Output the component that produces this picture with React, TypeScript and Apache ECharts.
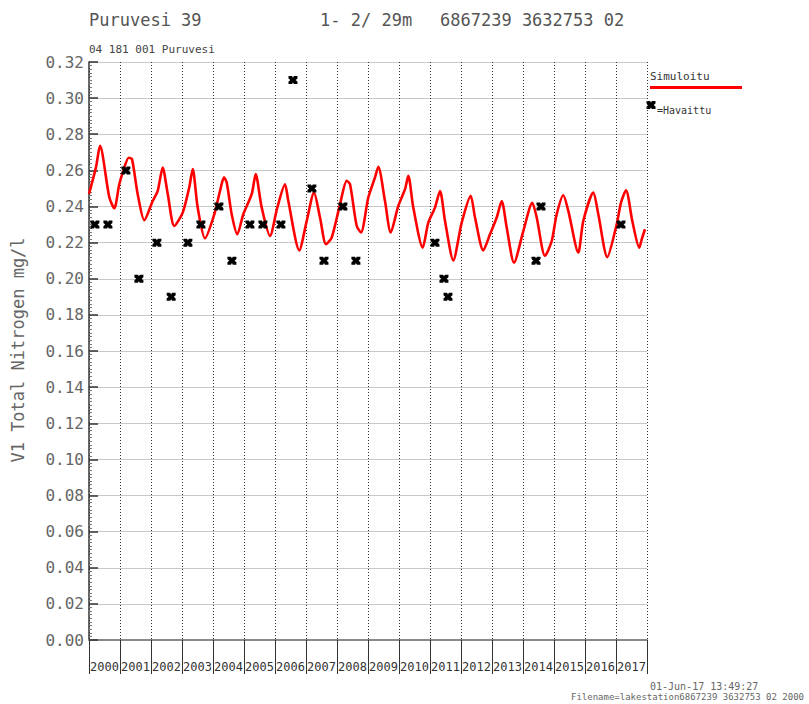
import React, { useEffect, useRef } from "react";
import * as echarts from "echarts";

const simYears = [
  2000.0, 2000.226, 2000.355, 2000.655, 2000.816, 2000.977, 2001.106, 2001.281, 2001.387, 2001.571,
  2001.784, 2002.055, 2002.216, 2002.377, 2002.539, 2002.752, 2003.023, 2003.235, 2003.345, 2003.506,
  2003.742, 2004.042, 2004.226, 2004.355, 2004.442, 2004.603, 2004.784, 2004.977, 2005.248, 2005.377,
  2005.571, 2005.839, 2006.074, 2006.323, 2006.429, 2006.784, 2007.023, 2007.258, 2007.452, 2007.645,
  2007.829, 2008.097, 2008.313, 2008.42, 2008.635, 2008.774, 2009.01, 2009.226, 2009.332, 2009.548,
  2009.732, 2009.977, 2010.194, 2010.3, 2010.461, 2010.765, 2010.945, 2011.161, 2011.323, 2011.484,
  2011.752, 2012.023, 2012.313, 2012.452, 2012.719, 2012.935, 2013.152, 2013.313, 2013.474, 2013.71,
  2014.01, 2014.3, 2014.442, 2014.71, 2014.926, 2015.087, 2015.3, 2015.461, 2015.784, 2015.945,
  2016.268, 2016.429, 2016.719, 2017.023, 2017.161, 2017.323, 2017.526, 2017.752, 2017.829, 2017.935,
];
const simValues = [
  0.247, 0.2618, 0.2736, 0.2451, 0.239, 0.2523, 0.2597, 0.267, 0.2662, 0.2468,
  0.2324, 0.243, 0.2486, 0.2615, 0.247, 0.2292, 0.2366, 0.2507, 0.2607, 0.2394,
  0.2224, 0.2357, 0.2486, 0.2561, 0.2533, 0.2357, 0.2246, 0.2357, 0.2468, 0.2579,
  0.2394, 0.2237, 0.2394, 0.2523, 0.243, 0.2157, 0.232, 0.2477, 0.2339, 0.2191,
  0.2228, 0.2412, 0.2542, 0.2523, 0.2293, 0.2256, 0.245, 0.2561, 0.262, 0.243,
  0.2256, 0.2403, 0.2496, 0.257, 0.2394, 0.2172, 0.2311, 0.2394, 0.2486, 0.232,
  0.2102, 0.2311, 0.2459, 0.2339, 0.2157, 0.2246, 0.2339, 0.243, 0.2284, 0.2089,
  0.2264, 0.2421, 0.2339, 0.2126, 0.2209, 0.2357, 0.2462, 0.2376, 0.2145, 0.232,
  0.2477, 0.2357, 0.212, 0.2302, 0.2421, 0.249, 0.232, 0.2172, 0.2218, 0.2274,
];

const obsYears = [
  2000.19, 2000.61, 2001.19, 2001.61, 2002.19, 2002.65, 2003.19, 2003.61, 2004.19, 2004.61,
  2005.19, 2005.61, 2006.19, 2006.58, 2007.19, 2007.58, 2008.19, 2008.61, 2011.16, 2011.45,
  2011.58, 2014.42, 2014.58, 2017.16,
];
const obsValues = [
  0.23, 0.23, 0.26, 0.2, 0.22, 0.19, 0.22, 0.23, 0.24, 0.21,
  0.23, 0.23, 0.23, 0.31, 0.25, 0.21, 0.24, 0.21, 0.22, 0.2,
  0.19, 0.21, 0.24, 0.23,
];

const titleMain = "Puruvesi 39";
const titleMid = "1- 2/ 29m";
const titleRight = "6867239 3632753 02";
const subTitle = "04 181 001 Puruvesi";
const yAxisTitle = "V1 Total Nitrogen mg/l";
const simLabel = "Simuloitu";
const obsLabel = "=Havaittu";
const stampDate = "01-Jun-17 13:49:27";
const stampFile = "Filename=lakestation6867239 3632753 02 2000";

const MONO = '"DejaVu Sans Mono", "Liberation Mono", monospace';
const MARKER_PTS = [
  [0, 0], [4, 0], [5, 2], [6, 0], [10, 0], [10, 3], [8, 5], [10, 7], [10, 10], [6, 10],
  [5, 8], [4, 10], [0, 10], [0, 7], [2, 5], [0, 3],
];
const MARKER =
  "path://M" + MARKER_PTS.map(([a, b]) => `${a},${b}`).join(" L") + " Z";

export default function App() {
  const ref = useRef<HTMLDivElement>(null);
  useEffect(() => {
    document.body.style.margin = "0";
    if (!ref.current) return;
    const chart = echarts.init(ref.current, null, { renderer: "svg" });
    const simData = simYears.map((y, i) => [y, simValues[i]]);
    const obsData = obsYears.map((y, i) => [y, obsValues[i]]);
    const legendX = 647;
    const mk = (cx: number, cy: number, w: number, h: number) =>
      MARKER_PTS.map(([a, b]) => [cx - w / 2 + (a * w) / 10, cy - h / 2 + (b * h) / 10]);
    chart.setOption({
      animation: false,
      backgroundColor: "#ffffff",
      grid: { left: 89, right: 162, top: 62, bottom: 64, containLabel: false },
      xAxis: {
        type: "value",
        min: 2000,
        max: 2018,
        interval: 1,
        axisLine: { show: true, lineStyle: { color: "#888", width: 2 } },
        axisTick: { show: true, length: 34, lineStyle: { color: "#333", width: 1 } },
        axisLabel: {
          show: true,
          formatter: (v: number) => (v < 2018 ? String(v) : ""),
          align: "left",
          margin: 21,
          padding: [0, 0, 0, 1],
          color: "#333",
          fontFamily: MONO,
          fontSize: 12,
        },
        splitLine: { show: true, lineStyle: { color: "#333", type: [1, 2], width: 1 } },
      },
      yAxis: {
        type: "value",
        min: 0,
        max: 0.32,
        interval: 0.02,
        axisLine: { show: true, lineStyle: { color: "#333", width: 1.5 } },
        axisTick: { show: true, inside: true, length: 9, lineStyle: { color: "#333", width: 1.5 } },
        minorTick: { show: true, splitNumber: 10, length: 3, lineStyle: { color: "#777" } },
        axisLabel: {
          formatter: (v: number) => v.toFixed(2),
          color: "#666",
          fontFamily: MONO,
          fontSize: 16,
          margin: 5,
        },
        splitLine: { show: true, lineStyle: { color: "#c8c8c8", width: 1 } },
      },
      graphic: [
        { type: "text", x: 89, y: 20, style: { text: titleMain, fill: "#555", font: `17px ${MONO}`, align: "left", verticalAlign: "middle" } },
        { type: "text", x: 320, y: 20, style: { text: titleMid, fill: "#555", font: `17px ${MONO}`, align: "left", verticalAlign: "middle" } },
        { type: "text", x: 440, y: 20, style: { text: titleRight, fill: "#555", font: `17px ${MONO}`, align: "left", verticalAlign: "middle" } },
        { type: "text", x: 89, y: 49, style: { text: subTitle, fill: "#444", font: `11px ${MONO}`, align: "left", verticalAlign: "middle" } },
        { type: "text", x: 18, y: 350, rotation: Math.PI / 2, style: { text: yAxisTitle, fill: "#666", font: `17px ${MONO}`, align: "center", verticalAlign: "middle" } },
        { type: "text", x: legendX + 3, y: 76, style: { text: simLabel, fill: "#333", font: `11px ${MONO}`, align: "left", verticalAlign: "middle" } },
        { type: "line", shape: { x1: legendX + 3, y1: 87.5, x2: 742, y2: 87.5 }, style: { stroke: "#ff0000", lineWidth: 3 } },
        { type: "polygon", shape: { points: mk(legendX + 4, 105, 9, 8) }, style: { fill: "#000" } },
        { type: "text", x: legendX + 10, y: 110, style: { text: obsLabel, fill: "#333", font: `10px ${MONO}`, align: "left", verticalAlign: "middle" } },
        { type: "text", x: 650, y: 686, style: { text: stampDate, fill: "#666", font: `10px ${MONO}`, align: "left", verticalAlign: "middle" } },
        { type: "text", x: 571, y: 697, style: { text: stampFile, fill: "#666", font: `9px ${MONO}`, align: "left", verticalAlign: "middle" } },
      ],
      series: [
        {
          type: "line",
          data: simData,
          showSymbol: false,
          smooth: 0.25,
          lineStyle: { color: "#ff0000", width: 2.6 },
          z: 2,
        },
        {
          type: "scatter",
          data: obsData,
          symbol: MARKER,
          symbolSize: [9, 8],
          itemStyle: { color: "#000", opacity: 1 },
          z: 3,
        },
      ],
    });
    return () => chart.dispose();
  }, []);
  return <div ref={ref} style={{ width: 809, height: 704 }} />;
}
